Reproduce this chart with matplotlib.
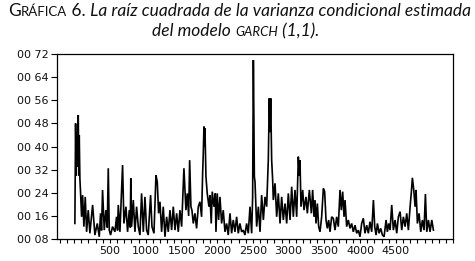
import matplotlib

matplotlib.use("Agg")

import matplotlib.pyplot as plt  # noqa: E402
from matplotlib.ticker import FixedLocator, MultipleLocator  # noqa: E402

obs = [
    10, 20, 29, 34, 43, 57, 66, 71, 80, 90, 104, 118, 136, 155, 174, 197, 220, 258,
    290, 323, 351, 369, 383, 397, 421, 444, 463, 477, 491, 509, 537, 570, 593, 607,
    617, 640, 677, 696, 724, 747, 771, 785, 792, 803, 827, 850, 873, 897, 920, 943,
    967, 990, 1013, 1036, 1069, 1088, 1116, 1144, 1162, 1181, 1200, 1223, 1246,
    1270, 1293, 1316, 1340, 1363, 1386, 1410, 1433, 1456, 1479, 1503, 1535, 1563,
    1582, 1601, 1615, 1633, 1647, 1666, 1689, 1712, 1736, 1759, 1782, 1796, 1806,
    1815, 1824, 1829, 1843, 1861, 1885, 1899, 1917, 1931, 1955, 1973, 1983, 2001,
    2020, 2039, 2062, 2085, 2109, 2132, 2155, 2179, 2202, 2225, 2249, 2272, 2295,
    2318, 2342, 2365, 2388, 2412, 2435, 2459, 2482, 2496, 2506, 2510, 2520, 2529,
    2543, 2552, 2576, 2599, 2622, 2646, 2669, 2692, 2715, 2729, 2739, 2748, 2762,
    2776, 2785, 2809, 2832, 2855, 2879, 2902, 2925, 2949, 2972, 2995, 3019, 3042,
    3065, 3088, 3112, 3135, 3149, 3158, 3172, 3196, 3214, 3242, 3261, 3289, 3317,
    3335, 3354, 3368, 3382, 3401, 3419, 3438, 3461, 3485, 3503, 3522, 3540, 3559,
    3578, 3601, 3624, 3648, 3671, 3694, 3718, 3736, 3755, 3774, 3788, 3811, 3834,
    3858, 3881, 3904, 3928, 3951, 3974, 3997, 4021, 4044, 4067, 4091, 4114, 4137,
    4161, 4185, 4203, 4222, 4241, 4264, 4287, 4311, 4334, 4362, 4380, 4399, 4418,
    4441, 4464, 4488, 4511, 4534, 4558, 4581, 4604, 4628, 4651, 4674, 4698, 4716,
    4730, 4749, 4768, 4781, 4800, 4823, 4847, 4870, 4893, 4912, 4931, 4954, 4977,
    5001, 5024,
]
sigma = [
    0.134, 0.480, 0.300, 0.450, 0.330, 0.509, 0.300, 0.440, 0.290, 0.238, 0.157,
    0.232, 0.123, 0.226, 0.105, 0.180, 0.100, 0.198, 0.094, 0.134, 0.088, 0.169,
    0.110, 0.250, 0.111, 0.180, 0.120, 0.325, 0.111, 0.094, 0.123, 0.105, 0.157,
    0.110, 0.198, 0.105, 0.336, 0.134, 0.192, 0.105, 0.180, 0.120, 0.290, 0.123,
    0.215, 0.105, 0.192, 0.123, 0.094, 0.238, 0.105, 0.226, 0.111, 0.094, 0.232,
    0.123, 0.100, 0.301, 0.278, 0.169, 0.209, 0.105, 0.192, 0.088, 0.157, 0.105,
    0.180, 0.111, 0.192, 0.111, 0.169, 0.105, 0.180, 0.123, 0.325, 0.180, 0.238,
    0.160, 0.353, 0.192, 0.180, 0.134, 0.169, 0.117, 0.192, 0.209, 0.157, 0.301,
    0.380, 0.469, 0.400, 0.463, 0.296, 0.238, 0.192, 0.232, 0.134, 0.244, 0.192,
    0.238, 0.105, 0.238, 0.146, 0.226, 0.134, 0.180, 0.105, 0.134, 0.094, 0.169,
    0.100, 0.146, 0.105, 0.157, 0.100, 0.134, 0.105, 0.111, 0.094, 0.134, 0.100,
    0.192, 0.100, 0.226, 0.699, 0.600, 0.296, 0.278, 0.180, 0.123, 0.192, 0.105,
    0.232, 0.146, 0.226, 0.192, 0.353, 0.567, 0.450, 0.567, 0.353, 0.284, 0.215,
    0.273, 0.157, 0.238, 0.134, 0.226, 0.146, 0.203, 0.134, 0.238, 0.146, 0.261,
    0.157, 0.250, 0.157, 0.365, 0.300, 0.353, 0.192, 0.250, 0.180, 0.226, 0.169,
    0.250, 0.169, 0.250, 0.157, 0.215, 0.134, 0.203, 0.123, 0.105, 0.157, 0.255,
    0.244, 0.146, 0.117, 0.146, 0.105, 0.157, 0.152, 0.111, 0.157, 0.123, 0.250,
    0.180, 0.244, 0.157, 0.215, 0.123, 0.146, 0.117, 0.134, 0.105, 0.128, 0.100,
    0.111, 0.088, 0.134, 0.152, 0.100, 0.128, 0.100, 0.140, 0.105, 0.215, 0.123,
    0.094, 0.134, 0.100, 0.117, 0.094, 0.088, 0.146, 0.105, 0.134, 0.111, 0.198,
    0.111, 0.146, 0.100, 0.157, 0.175, 0.111, 0.157, 0.123, 0.169, 0.111, 0.192,
    0.244, 0.292, 0.250, 0.192, 0.250, 0.134, 0.169, 0.105, 0.146, 0.111, 0.236,
    0.105, 0.146, 0.105, 0.146, 0.111,
]

y_ticks = [0.08, 0.16, 0.24, 0.32, 0.40, 0.48, 0.56, 0.64, 0.72]
y_labels = ["00 08", "00 16", "00 24", "00 32", "00 40", "00 48", "00 56", "00 64", "00 72"]
x_ticks = [500, 1000, 1500, 2000, 2500, 3000, 3500, 4000, 4500]

fig = plt.figure(figsize=(4.75, 2.61), dpi=100)
fig.patch.set_facecolor("white")

ax = fig.add_axes((0.12, 0.084, 0.834, 0.709))
ax.plot(obs, sigma, color="black", linewidth=1.2, solid_joinstyle="miter")
ax.set_xlim(-240, 5300)
ax.set_ylim(0.08, 0.72)

ax.yaxis.set_major_locator(FixedLocator(y_ticks))
ax.set_yticklabels(y_labels)
ax.xaxis.set_major_locator(FixedLocator(x_ticks))
ax.xaxis.set_minor_locator(MultipleLocator(100))
ax.set_xticklabels([str(t) for t in x_ticks])
ax.tick_params(axis="both", which="both", direction="out", color="black",
               labelsize=8, labelcolor="#111111", width=0.8)
ax.tick_params(axis="y", length=4, pad=2)
ax.tick_params(axis="x", which="major", length=3, pad=2)
ax.tick_params(axis="x", which="minor", length=3)
for lab in ax.get_xticklabels() + ax.get_yticklabels():
    lab.set_fontfamily("DejaVu Sans")
for side in ax.spines.values():
    side.set_linewidth(0.9)
    side.set_color("black")

# title with faked small caps, built piece by piece on a common baseline
renderer = fig.canvas.get_renderer()


def run_line(pieces, x0, y0):
    x = x0
    for txt, size, style in pieces:
        t = fig.text(x, y0, txt, fontsize=size, fontstyle=style, family="Lato",
                     color="#111111", ha="left", va="baseline")
        x = fig.transFigure.inverted().transform(
            (t.get_window_extent(renderer).x1, 0))[0]


run_line([("G", 12.5, "normal"), ("RÁFICA", 9.5, "normal"), (" 6.", 12.5, "normal"),
          (" La raíz cuadrada de la varianza condicional estimada", 12.5, "italic")],
         8 / 475, 1 - 16 / 261)
run_line([("del modelo ", 12.5, "italic"), ("GARCH", 9.5, "italic"),
          (" (1,1).", 12.5, "italic")],
         152 / 475, 1 - 36 / 261)

fig.savefig("out.png", dpi=100, facecolor="white")
